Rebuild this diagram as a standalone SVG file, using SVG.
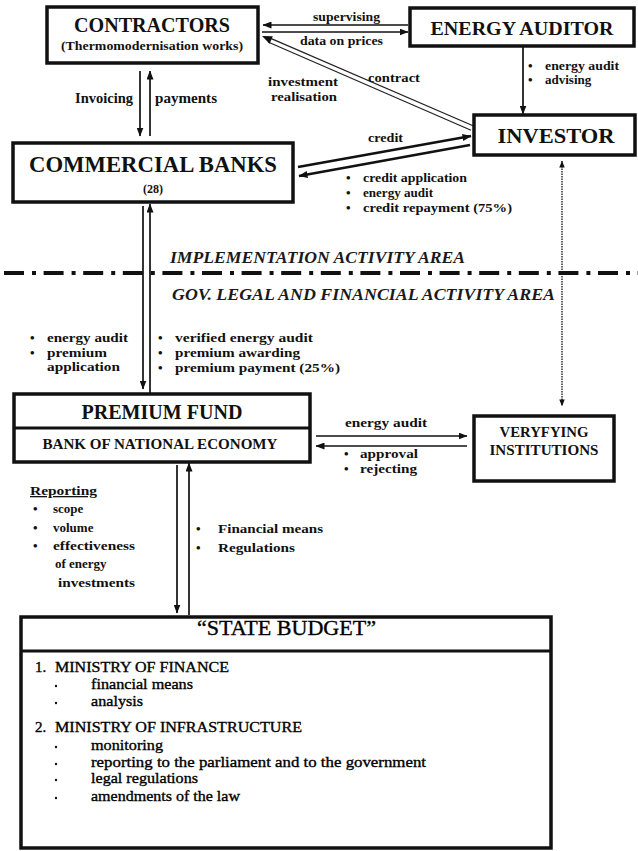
<svg xmlns="http://www.w3.org/2000/svg" width="638" height="851" viewBox="0 0 638 851">
<style>
text{font-family:'Liberation Serif','Times New Roman','DejaVu Serif',serif;font-weight:bold;fill:#111}
.box{fill:#fff;stroke:#111;stroke-width:3.5}
.c{stroke:#111;stroke-width:1.7;fill:none}
.th{stroke:#111;stroke-width:2.6;fill:none}
.lbl{font-size:13px}
.area{font-style:italic;font-size:17px;fill:#1a1a1a}
.reg{font-weight:normal;fill:#000;stroke:#000;stroke-width:0.35}
</style>
<defs>
<marker id="ah" viewBox="0 0 9 7" refX="8.5" refY="3.5" markerWidth="9" markerHeight="7" orient="auto-start-reverse" markerUnits="userSpaceOnUse"><path d="M0,0 L9,3.5 L0,7 z" fill="#111"/></marker>
<marker id="ahs" viewBox="0 0 9 7" refX="8.5" refY="3.5" markerWidth="7" markerHeight="5.5" orient="auto-start-reverse" markerUnits="userSpaceOnUse"><path d="M0,0 L9,3.5 L0,7 z" fill="#111"/></marker>
</defs>

<g id="connectors">
<line class="c" x1="408" y1="25" x2="263" y2="25" marker-end="url(#ah)"/>
<line class="c" x1="262" y1="32" x2="408" y2="32" marker-end="url(#ah)"/>
<line x1="269" y1="37.6" x2="473" y2="125.7" stroke="#222" stroke-width="1.2"/>
<line x1="268" y1="42" x2="471" y2="130.3" stroke="#222" stroke-width="1.2"/>
<polygon points="262,36 269.6,43.7 272.8,36.3" fill="#111"/>
<line class="c" x1="523" y1="46" x2="523" y2="114" marker-end="url(#ah)"/>
<line class="c" x1="140" y1="71" x2="140" y2="136" marker-end="url(#ah)"/>
<line class="c" x1="150" y1="136" x2="150" y2="71" marker-end="url(#ah)"/>
<line class="th" x1="298" y1="167" x2="471" y2="136" marker-end="url(#ah)"/>
<line class="th" x1="470" y1="145" x2="299" y2="176" marker-end="url(#ah)"/>
<line class="c" x1="143" y1="206" x2="143" y2="389" marker-end="url(#ah)"/>
<line class="c" x1="150" y1="393" x2="150" y2="204" marker-end="url(#ah)"/>
<line class="c" x1="316" y1="436" x2="467" y2="436" marker-end="url(#ah)" stroke="#333"/>
<line class="c" x1="467" y1="446" x2="316" y2="446" marker-end="url(#ah)" stroke="#333"/>
<line class="c" x1="177" y1="465" x2="177" y2="613" marker-end="url(#ah)"/>
<line class="c" x1="189" y1="615" x2="189" y2="463" marker-end="url(#ah)"/>
<line x1="562" y1="161" x2="562" y2="406" stroke="#222" stroke-width="1.4" stroke-dasharray="1.5 1" marker-start="url(#ahs)" marker-end="url(#ahs)"/>
</g>

<g id="divider">
<line x1="0" y1="273" x2="638" y2="273" stroke="#111" stroke-width="4" stroke-dasharray="20 8 4 7.6" stroke-dashoffset="-4"/>
<text class="area" x="170" y="263" textLength="295" lengthAdjust="spacingAndGlyphs">IMPLEMENTATION ACTIVITY AREA</text>
<text class="area" x="172" y="300" textLength="383" lengthAdjust="spacingAndGlyphs">GOV. LEGAL AND FINANCIAL ACTIVITY AREA</text>
</g>

<g id="contractors">
<rect class="box" x="47" y="7" width="211" height="56"/>
<text x="152" y="32" font-size="20" text-anchor="middle" textLength="156" lengthAdjust="spacingAndGlyphs">CONTRACTORS</text>
<text x="152" y="50" font-size="13" text-anchor="middle" textLength="182" lengthAdjust="spacingAndGlyphs">(Thermomodernisation works)</text>
</g>

<g id="energy-auditor">
<rect class="box" x="410" y="8" width="224" height="38"/>
<text x="522" y="35" font-size="19.5" text-anchor="middle" textLength="183" lengthAdjust="spacingAndGlyphs">ENERGY AUDITOR</text>
</g>

<g id="investor">
<rect class="box" x="474" y="115" width="161" height="40" stroke-width="4"/>
<text x="556" y="143" font-size="22" text-anchor="middle" textLength="117" lengthAdjust="spacingAndGlyphs">INVESTOR</text>
</g>

<g id="commercial-banks">
<rect class="box" x="13" y="143" width="280" height="59" stroke-width="4"/>
<text x="153" y="172" font-size="23" text-anchor="middle" textLength="248" lengthAdjust="spacingAndGlyphs">COMMERCIAL BANKS</text>
<text x="153" y="193" font-size="12" text-anchor="middle">(28)</text>
</g>

<g id="premium-fund">
<rect class="box" x="14" y="394" width="296" height="68"/>
<line x1="14" y1="428" x2="310" y2="428" stroke="#111" stroke-width="3"/>
<text x="162" y="419" font-size="21" text-anchor="middle" textLength="161" lengthAdjust="spacingAndGlyphs">PREMIUM FUND</text>
<text x="160" y="449" font-size="14" text-anchor="middle" textLength="235" lengthAdjust="spacingAndGlyphs">BANK OF NATIONAL ECONOMY</text>
</g>

<g id="veryfying-institutions">
<rect class="box" x="474" y="416" width="140" height="65"/>
<text x="544" y="437" font-size="15" text-anchor="middle" textLength="89" lengthAdjust="spacingAndGlyphs">VERYFYING</text>
<text x="544" y="455" font-size="15" text-anchor="middle" textLength="109" lengthAdjust="spacingAndGlyphs">INSTITUTIONS</text>
</g>

<g id="state-budget">
<rect class="box" x="21" y="617" width="530" height="231" stroke-width="3"/>
<line x1="21" y1="651" x2="551" y2="651" stroke="#111" stroke-width="3"/>
<text class="reg" x="197" y="635" font-size="21" textLength="179" lengthAdjust="spacingAndGlyphs">“STATE BUDGET”</text>
<g font-size="15">
<text class="reg" x="35" y="672">1.</text>
<text class="reg" x="55" y="672" textLength="174" lengthAdjust="spacingAndGlyphs">MINISTRY OF FINANCE</text>
<text class="reg" x="91" y="689" textLength="102" lengthAdjust="spacingAndGlyphs">financial means</text>
<text class="reg" x="91" y="706" textLength="52" lengthAdjust="spacingAndGlyphs">analysis</text>
<text class="reg" x="35" y="732">2.</text>
<text class="reg" x="55" y="732" textLength="247" lengthAdjust="spacingAndGlyphs">MINISTRY OF INFRASTRUCTURE</text>
<text class="reg" x="91" y="750" textLength="72" lengthAdjust="spacingAndGlyphs">monitoring</text>
<text class="reg" x="91" y="767" textLength="335" lengthAdjust="spacingAndGlyphs">reporting to the parliament and to the government</text>
<text class="reg" x="91" y="783" textLength="107" lengthAdjust="spacingAndGlyphs">legal regulations</text>
<text class="reg" x="91" y="801" textLength="149" lengthAdjust="spacingAndGlyphs">amendments of the law</text>
</g>
<g fill="#111">
<circle cx="56" cy="686" r="1.2"/>
<circle cx="56" cy="703" r="1.2"/>
<circle cx="56" cy="747" r="1.2"/>
<circle cx="56" cy="764" r="1.2"/>
<circle cx="56" cy="780" r="1.2"/>
<circle cx="56" cy="798" r="1.2"/>
</g>
</g>

<g id="labels">
<text class="lbl" x="313" y="21" font-size="12" textLength="67" lengthAdjust="spacingAndGlyphs">supervising</text>
<text class="lbl" x="300" y="45" textLength="83" lengthAdjust="spacingAndGlyphs">data on prices</text>
<text class="lbl" x="303" y="86" text-anchor="middle" textLength="70" lengthAdjust="spacingAndGlyphs">investment</text>
<text class="lbl" x="304" y="101" text-anchor="middle" textLength="66" lengthAdjust="spacingAndGlyphs">realisation</text>
<text class="lbl" x="368" y="82" textLength="52" lengthAdjust="spacingAndGlyphs">contract</text>
<text class="lbl" x="528" y="70">•</text>
<text class="lbl" x="545" y="70" textLength="74" lengthAdjust="spacingAndGlyphs">energy audit</text>
<text class="lbl" x="528" y="84">•</text>
<text class="lbl" x="545" y="84">advising</text>
<text class="lbl" x="368" y="142" textLength="35" lengthAdjust="spacingAndGlyphs">credit</text>
<text class="lbl" x="346" y="182">•</text>
<text class="lbl" x="363" y="182" textLength="104" lengthAdjust="spacingAndGlyphs">credit application</text>
<text class="lbl" x="346" y="197">•</text>
<text class="lbl" x="363" y="197" textLength="70" lengthAdjust="spacingAndGlyphs">energy audit</text>
<text class="lbl" x="346" y="212">•</text>
<text class="lbl" x="363" y="212" textLength="149" lengthAdjust="spacingAndGlyphs">credit repayment (75%)</text>
<text x="75" y="103" font-size="14" textLength="58" lengthAdjust="spacingAndGlyphs">Invoicing</text>
<text x="155" y="103" font-size="14" textLength="62" lengthAdjust="spacingAndGlyphs">payments</text>
<text class="lbl" x="30" y="342">•</text>
<text class="lbl" x="47" y="342" textLength="81" lengthAdjust="spacingAndGlyphs">energy audit</text>
<text class="lbl" x="30" y="357">•</text>
<text class="lbl" x="47" y="357" textLength="60" lengthAdjust="spacingAndGlyphs">premium</text>
<text class="lbl" x="47" y="371" textLength="73" lengthAdjust="spacingAndGlyphs">application</text>
<text class="lbl" x="158" y="342">•</text>
<text class="lbl" x="175" y="342" textLength="138" lengthAdjust="spacingAndGlyphs">verified energy  audit</text>
<text class="lbl" x="158" y="357">•</text>
<text class="lbl" x="175" y="357" textLength="125" lengthAdjust="spacingAndGlyphs">premium awarding</text>
<text class="lbl" x="158" y="372">•</text>
<text class="lbl" x="175" y="372" textLength="165" lengthAdjust="spacingAndGlyphs">premium payment (25%)</text>
<text class="lbl" x="345" y="427" textLength="82" lengthAdjust="spacingAndGlyphs">energy audit</text>
<text class="lbl" x="344" y="458">•</text>
<text class="lbl" x="360" y="458" textLength="58" lengthAdjust="spacingAndGlyphs">approval</text>
<text class="lbl" x="344" y="473">•</text>
<text class="lbl" x="360" y="473" textLength="57" lengthAdjust="spacingAndGlyphs">rejecting</text>
<text class="lbl" x="30" y="495" text-decoration="underline" textLength="67" lengthAdjust="spacingAndGlyphs">Reporting</text>
<text class="lbl" x="33" y="513">•</text>
<text class="lbl" x="53" y="513">scope</text>
<text class="lbl" x="33" y="532">•</text>
<text class="lbl" x="53" y="532">volume</text>
<text class="lbl" x="33" y="550">•</text>
<text class="lbl" x="53" y="550" textLength="82" lengthAdjust="spacingAndGlyphs">effectiveness</text>
<text class="lbl" x="55" y="568">of energy</text>
<text class="lbl" x="58" y="587" textLength="77" lengthAdjust="spacingAndGlyphs">investments</text>
<text class="lbl" x="196" y="533">•</text>
<text class="lbl" x="218" y="533" textLength="105" lengthAdjust="spacingAndGlyphs">Financial means</text>
<text class="lbl" x="196" y="552">•</text>
<text class="lbl" x="218" y="552" textLength="77" lengthAdjust="spacingAndGlyphs">Regulations</text>
</g>
</svg>
